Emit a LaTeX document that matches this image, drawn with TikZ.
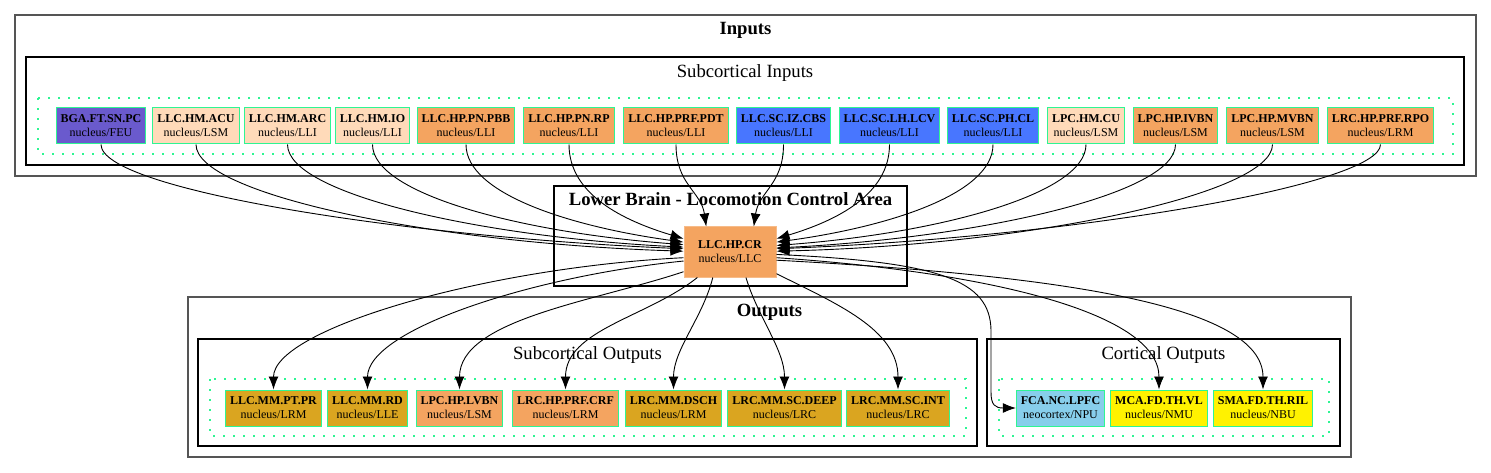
\documentclass[tikz,border=0pt]{standalone}
\usepackage{fontspec}
\setmainfont{Liberation Serif}
\usetikzlibrary{arrows.meta}

\definecolor{slate}{HTML}{6A5ACD}
\definecolor{peach}{HTML}{FFDAB9}
\definecolor{sandy}{HTML}{F4A460}
\definecolor{royal}{HTML}{4876FF}
\definecolor{golden}{HTML}{DAA520}
\definecolor{sky}{HTML}{87CEEB}
\definecolor{nucline}{HTML}{2EF593}
\definecolor{grpline}{HTML}{555555}

\tikzset{
  nuc/.style={draw=nucline, line width=1pt, inner xsep=4.5pt, inner ysep=0pt, minimum height=36pt, align=center, font=\fontsize{12}{14}\selectfont},
  grpbox/.style={draw=grpline, line width=1.5pt},
  subbox/.style={draw=black, line width=1.1pt},
  dotbox/.style={draw=nucline, line width=1.8pt, dash pattern=on 2pt off 8pt},
  ttl/.style={anchor=base, inner sep=0pt, font=\fontsize{18.67}{20}\selectfont},
  conn/.style={line width=0.9pt, -{Latex[length=13pt,width=10pt]}}
}

\begin{document}
\begin{tikzpicture}[x=1pt, y=-1pt]
\useasboundingbox (0,0) rectangle (1491,473);

% clusters
\draw [grpbox] (15,15) rectangle (1476,176);
\node [ttl] (inputs) at (745.5,35) {\textbf{Inputs}};
\draw [subbox] (26,57) rectangle (1464,165);
\node [ttl] (subin) at (745,78) {Subcortical Inputs};
\draw [dotbox] (38,98) rectangle (1453,154);

\draw [subbox] (554,186) rectangle (907,286);
\node [ttl] (lbca) at (730.5,206) {\textbf{Lower Brain - Locomotion Control Area}};

\draw [grpbox] (188,297) rectangle (1351,457);
\node [ttl] (outputs) at (769.5,316) {\textbf{Outputs}};
\draw [subbox] (198,339) rectangle (977,446);
\node [ttl] (subout) at (587.5,359) {Subcortical Outputs};
\draw [dotbox] (210,379) rectangle (966,436);
\draw [subbox] (987,339) rectangle (1340,446);
\node [ttl] (corout) at (1163.5,359) {Cortical Outputs};
\draw [dotbox] (999,379) rectangle (1329,436);

% input nuclei
\node [nuc, fill=slate] (bga) at (101,126) {\textbf{BGA.FT.SN.PC}\\nucleus/FEU};
\node [nuc, fill=peach] (acu) at (196,126) {\textbf{LLC.HM.ACU}\\nucleus/LSM};
\node [nuc, fill=peach] (arc) at (287.5,126) {\textbf{LLC.HM.ARC}\\nucleus/LLI};
\node [nuc, fill=peach] (io) at (372.5,126) {\textbf{LLC.HM.IO}\\nucleus/LLI};
\node [nuc, fill=sandy] (pbb) at (466,126) {\textbf{LLC.HP.PN.PBB}\\nucleus/LLI};
\node [nuc, fill=sandy] (rp) at (569,126) {\textbf{LLC.HP.PN.RP}\\nucleus/LLI};
\node [nuc, fill=sandy] (pdt) at (676,126) {\textbf{LLC.HP.PRF.PDT}\\nucleus/LLI};
\node [nuc, fill=royal] (cbs) at (783.5,126) {\textbf{LLC.SC.IZ.CBS}\\nucleus/LLI};
\node [nuc, fill=royal] (lcv) at (889.5,126) {\textbf{LLC.SC.LH.LCV}\\nucleus/LLI};
\node [nuc, fill=royal] (cl) at (993,126) {\textbf{LLC.SC.PH.CL}\\nucleus/LLI};
\node [nuc, fill=peach] (cu) at (1086,126) {\textbf{LPC.HM.CU}\\nucleus/LSM};
\node [nuc, fill=sandy] (ivbn) at (1175.5,126) {\textbf{LPC.HP.IVBN}\\nucleus/LSM};
\node [nuc, fill=sandy] (mvbn) at (1272.5,126) {\textbf{LPC.HP.MVBN}\\nucleus/LSM};
\node [nuc, fill=sandy] (rpo) at (1380.5,126) {\textbf{LRC.HP.PRF.RPO}\\nucleus/LRM};

% centre
\node [nuc, draw=sandy!75!white, fill=sandy, minimum width=92pt, minimum height=50pt] (cr) at (730,252) {\textbf{LLC.HP.CR}\\nucleus/LLC};

% output nuclei
\node [nuc, fill=golden] (ptpr) at (273.5,408) {\textbf{LLC.MM.PT.PR}\\nucleus/LRM};
\node [nuc, fill=golden] (rd) at (367.5,408) {\textbf{LLC.MM.RD}\\nucleus/LLE};
\node [nuc, fill=sandy] (lvbn) at (459.5,408) {\textbf{LPC.HP.LVBN}\\nucleus/LSM};
\node [nuc, fill=sandy] (crf) at (565.5,408) {\textbf{LRC.HP.PRF.CRF}\\nucleus/LRM};
\node [nuc, fill=golden] (dsch) at (673.5,408) {\textbf{LRC.MM.DSCH}\\nucleus/LRM};
\node [nuc, fill=golden] (deep) at (784.5,408) {\textbf{LRC.MM.SC.DEEP}\\nucleus/LRC};
\node [nuc, fill=golden] (int) at (898,408) {\textbf{LRC.MM.SC.INT}\\nucleus/LRC};
\node [nuc, fill=sky] (lpfc) at (1060.5,408) {\textbf{FCA.NC.LPFC}\\neocortex/NPU};
\node [nuc, fill=yellow] (vl) at (1159,408) {\textbf{MCA.FD.TH.VL}\\nucleus/NMU};
\node [nuc, fill=yellow] (ril) at (1263,408) {\textbf{SMA.FD.TH.RIL}\\nucleus/NBU};

% inputs to centre
\draw [conn] (bga.south) .. controls +(0,45) and +(-280,-12) .. (cr.176);
\draw [conn] (acu.south) .. controls +(0,50) and +(-250,-8) .. (cr.179);
\draw [conn] (arc.south) .. controls +(0,50) and +(-200,-10) .. (cr.174);
\draw [conn] (io.south) .. controls +(0,50) and +(-160,-12) .. (cr.171);
\draw [conn] (pbb.south) .. controls +(0,50) and +(-110,-15) .. (cr.168);
\draw [conn] (rp.south) .. controls +(0,50) and +(-60,-18) .. (cr.164);
\draw [conn] (pdt.south) .. controls +(0,40) and +(-5,-35) .. (cr.133);
\draw [conn] (cbs.south) .. controls +(0,40) and +(5,-35) .. (cr.47);
\draw [conn] (lcv.south) .. controls +(0,50) and +(60,-18) .. (cr.16);
\draw [conn] (cl.south) .. controls +(0,50) and +(110,-15) .. (cr.12);
\draw [conn] (cu.south) .. controls +(0,50) and +(160,-12) .. (cr.8);
\draw [conn] (ivbn.south) .. controls +(0,50) and +(200,-10) .. (cr.5);
\draw [conn] (mvbn.south) .. controls +(0,50) and +(250,-6) .. (cr.1);
\draw [conn] (rpo.south) .. controls +(0,40) and +(300,-12) .. (cr.4);

% centre to outputs
\draw [conn] (cr.187) .. controls +(-200,10) and +(0,-60) .. (ptpr.north);
\draw [conn] (cr.191) .. controls +(-150,15) and +(0,-60) .. (rd.north);
\draw [conn] (cr.203) .. controls +(-90,30) and +(0,-70) .. (lvbn.north);
\draw [conn] (cr.218) .. controls +(-50,40) and +(0,-60) .. (crf.north);
\draw [conn] (cr.236) .. controls +(-10,40) and +(0,-40) .. (dsch.north);
\draw [conn] (cr.302) .. controls +(12,40) and +(0,-40) .. (deep.north);
\draw [conn] (cr.335) .. controls +(60,30) and +(0,-60) .. (int.north);
\draw [conn] (cr.357) .. controls (940,262) and (990,280) .. (991,330) -- (991,392) .. controls (991,405) and (995,408) .. (lpfc.west);
\draw [conn] (cr.353) .. controls +(220,15) and +(0,-75) .. (vl.north);
\draw [conn] (cr.350) .. controls +(280,15) and +(0,-85) .. (ril.north);
\end{tikzpicture}
\end{document}
